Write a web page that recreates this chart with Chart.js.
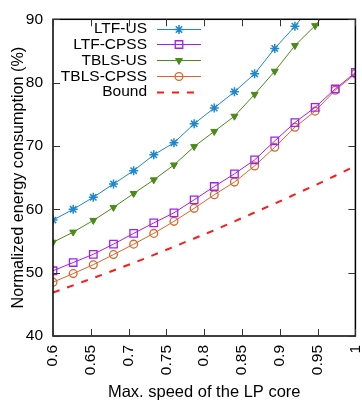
<!DOCTYPE html>
<html><head><meta charset="utf-8">
<script src="https://cdn.jsdelivr.net/npm/chart.js@4/dist/chart.umd.min.js"></script>
<style>html,body{margin:0;padding:0;background:#fff}#wrap{width:362px;height:405px}</style>
</head><body><div id="wrap"><canvas id="c" width="362" height="405"></canvas></div>
<script>
const xValues = [0.6, 0.6267, 0.6533, 0.68, 0.7067, 0.7333, 0.76, 0.7867, 0.8133, 0.84, 0.8667, 0.8933, 0.92, 0.9467, 0.9733, 1.0];
const ltfUS    = [58.3, 60.0, 61.9, 64.0, 66.1, 68.6, 70.5, 73.5, 76.0, 78.55, 81.4, 85.4, 88.9, 93.0, 97.0, 101.0];
const ltfCPSS  = [50.3, 51.6, 52.9, 54.5, 56.2, 57.85, 59.45, 61.5, 63.6, 65.6, 67.8, 70.8, 73.7, 76.1, 79.0, 81.6];
const tblsUS   = [54.8, 56.4, 58.25, 60.3, 62.5, 64.65, 67.0, 69.9, 72.3, 74.7, 78.15, 81.8, 85.85, 89.0, 93.0, 97.0];
const tblsCPSS = [48.5, 49.85, 51.25, 52.85, 54.5, 56.2, 58.1, 60.15, 62.3, 64.3, 66.85, 69.8, 72.95, 75.5, 78.8, 81.4];
const bound    = [46.85, 48.0, 49.15, 50.35, 51.55, 52.8, 54.1, 55.4, 56.7, 58.1, 59.5, 60.9, 62.35, 63.8, 65.3, 66.85];
const seriesNames = ['LTF-US', 'LTF-CPSS', 'TBLS-US', 'TBLS-CPSS', 'Bound'];
const xTicks = [0.6, 0.65, 0.7, 0.75, 0.8, 0.85, 0.9, 0.95, 1];
const xTickLabels = ['0.6', '0.65', '0.7', '0.75', '0.8', '0.85', '0.9', '0.95', '1'];
const yTicks = [40, 50, 60, 70, 80, 90];
const yTickLabels = ['40', '50', '60', '70', '80', '90'];
const xTitle = 'Max. speed of the LP core';
const yTitle = 'Normalized energy consumption (%)';

const FONT = '"Liberation Sans", Arial, Helvetica, sans-serif';
const pts = arr => xValues.map((x, i) => ({x: x, y: arr[i]}));

const styles = [
  {color: '#1e88cc', pointStyle: 'star', radius: 4.5, rotation: 0, fill: false, width: 1, dash: [], pbw: 1.5},
  {color: '#a020f0', pointStyle: 'rect', radius: 5.3, rotation: 0, fill: false, width: 1, dash: [], pbw: 1.3},
  {color: '#4b8b18', pointStyle: 'triangle', radius: 4, rotation: 180, fill: true, width: 1, dash: [], pbw: 1},
  {color: '#d8652a', pointStyle: 'circle', radius: 3.9, rotation: 0, fill: false, width: 1, dash: [], pbw: 1.3},
  {color: '#ff1a1a', pointStyle: false, radius: 0, rotation: 0, fill: false, width: 2, dash: [7, 8], pbw: 0}
];
const seriesData = [ltfUS, ltfCPSS, tblsUS, tblsCPSS, bound];

const datasets = seriesNames.map((name, i) => {
  const s = styles[i];
  return {
    label: name,
    data: pts(seriesData[i]),
    borderColor: s.color,
    backgroundColor: s.fill ? s.color : 'rgba(0,0,0,0)',
    borderWidth: s.width,
    borderDash: s.dash,
    pointStyle: s.pointStyle,
    pointRadius: s.radius,
    pointRotation: s.rotation,
    pointBorderColor: s.color,
    pointBackgroundColor: s.fill ? s.color : 'rgba(0,0,0,0)',
    pointBorderWidth: s.pbw,
    tension: 0,
    fill: false,
    clip: 0
  };
});

const framePlugin = {
  id: 'frame',
  afterDatasetsDraw(chart) {
    const {ctx, chartArea: {left, right, top, bottom}, scales: {x, y}} = chart;
    ctx.save();
    ctx.strokeStyle = '#000';
    ctx.lineWidth = 1.5;
    ctx.strokeRect(left, top, right - left, bottom - top);
    ctx.lineWidth = 1;
    ctx.strokeStyle = '#333';
    const L = 7;
    x.ticks.forEach(t => {
      const px = Math.round(x.getPixelForValue(t.value)) + 0.5;
      ctx.beginPath();
      ctx.moveTo(px, bottom); ctx.lineTo(px, bottom - L);
      ctx.moveTo(px, top); ctx.lineTo(px, top + L);
      ctx.stroke();
    });
    y.ticks.forEach(t => {
      const py = Math.round(y.getPixelForValue(t.value)) + 0.5;
      ctx.beginPath();
      ctx.moveTo(left, py); ctx.lineTo(left + L, py);
      ctx.moveTo(right, py); ctx.lineTo(right - L, py);
      ctx.stroke();
    });
    ctx.restore();
  }
};

const keyPlugin = {
  id: 'key',
  afterDraw(chart) {
    const ctx = chart.ctx;
    ctx.save();
    ctx.font = '15.5px ' + FONT;
    ctx.textAlign = 'right';
    ctx.textBaseline = 'middle';
    chart.data.datasets.forEach((ds, i) => {
      const yy = 28.7 + i * 15.7;
      ctx.fillStyle = '#000';
      ctx.fillText(ds.label, 147, yy + 0.5);
      ctx.strokeStyle = ds.borderColor;
      ctx.lineWidth = ds.borderWidth;
      ctx.setLineDash(ds.borderDash || []);
      ctx.beginPath();
      ctx.moveTo(157, Math.round(yy) + 0.5);
      ctx.lineTo(201, Math.round(yy) + 0.5);
      ctx.stroke();
      ctx.setLineDash([]);
      if (ds.pointStyle) {
        ctx.fillStyle = ds.pointBackgroundColor;
        ctx.strokeStyle = ds.pointBorderColor;
        ctx.lineWidth = ds.pointBorderWidth;
        Chart.helpers.drawPoint(ctx, {pointStyle: ds.pointStyle, rotation: ds.pointRotation, radius: ds.pointRadius, borderWidth: ds.pointBorderWidth}, 179, Math.round(yy) + 0.5);
      }
    });
    ctx.restore();
  }
};

new Chart(document.getElementById('c'), {
  type: 'line',
  data: {datasets: datasets},
  plugins: [framePlugin, keyPlugin],
  options: {
    responsive: false,
    animation: false,
    devicePixelRatio: 1,
    layout: {padding: {top: 14, right: 1, left: 0, bottom: 0}},
    plugins: {legend: {display: false}, tooltip: {enabled: false}},
    scales: {
      x: {
        type: 'linear', min: 0.6, max: 1,
        afterBuildTicks: s => { s.ticks = xTicks.map(v => ({value: v})); },
        afterFit: s => { s.height = 69; s.paddingLeft = 0; s.paddingRight = 0; },
        grid: {display: false, drawTicks: false},
        border: {display: false},
        ticks: {
          autoSkip: false, maxRotation: 90, minRotation: 90, padding: 9,
          color: '#000', font: {family: FONT, size: 15.5},
          callback: (v, i) => xTickLabels[i]
        },
        title: {display: true, text: xTitle, color: '#000', font: {family: FONT, size: 16.5}, padding: {top: 0, bottom: 3}}
      },
      y: {
        min: 40, max: 90,
        afterBuildTicks: s => { s.ticks = yTicks.map(v => ({value: v})); },
        afterFit: s => { s.width = 53; },
        grid: {display: false, drawTicks: false},
        border: {display: false},
        ticks: {padding: 10, color: '#000', font: {family: FONT, size: 15.5}, callback: (v, i) => yTickLabels[i]},
        title: {display: true, text: yTitle, color: '#000', font: {family: FONT, size: 16.2}, padding: {top: 9, bottom: 0}}
      }
    }
  }
});
</script>
</body></html>
